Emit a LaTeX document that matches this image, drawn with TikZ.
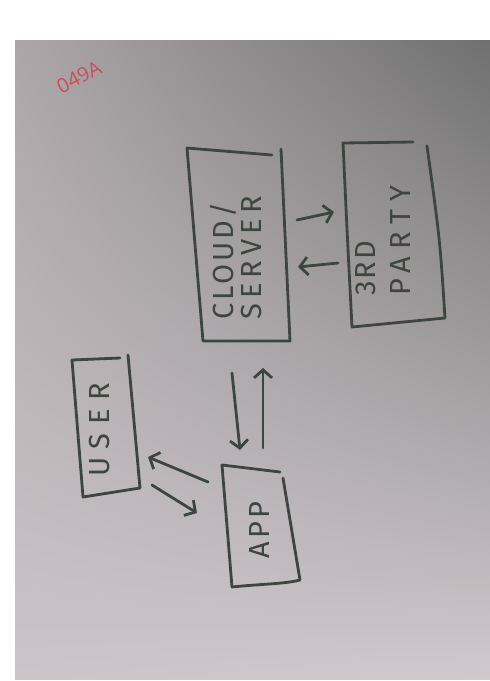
\documentclass[tikz,border=0pt]{standalone}
\usepackage{fontspec}
\setmainfont{Fira Sans}
\newfontfamily\notefont{Open Sans}
\usetikzlibrary{arrows.meta,shadings}
\definecolor{ink}{HTML}{3C463F}
\definecolor{redpen}{HTML}{D24A5A}
\definecolor{paperUL}{HTML}{ACA6A8}
\definecolor{paperUR}{HTML}{707070}
\definecolor{paperLL}{HTML}{CBC5C9}
\definecolor{paperLR}{HTML}{D0C9CD}
% widely tracked hand lettering
\newcommand\tracked[2]{{\addfontfeature{LetterSpace=#1}#2}}
\tikzset{
  pen/.style={line width=2.8pt, draw=ink, line cap=round, line join=round},
  flow/.style={pen, -{Straight Barb[length=8pt,width=18pt]}},
  label/.style={text=ink, rotate=90, align=left, inner sep=0pt,
    font=\fontsize{29}{33}\selectfont},
}
\begin{document}
\begin{tikzpicture}[x=1pt,y=-1pt]
  \useasboundingbox (0,0) rectangle (490,681);
  \fill[white] (0,0) rectangle (490,681);
  % sheet of paper
  \shade[upper left=paperUL, upper right=paperUR,
         lower left=paperLL, lower right=paperLR] (15,40) rectangle (490,679);

  % red reference number
  \node[text=redpen, rotate=27, inner sep=0pt,
        font=\notefont\fontsize{20}{20}\selectfont] (ref) at (79,77) {049A};

  % CLOUD / SERVER box
  \coordinate (c1) at (187,148);
  \coordinate (c2) at (272,155);
  \coordinate (c3) at (281,149);
  \coordinate (c4) at (290,341);
  \coordinate (c5) at (203,341);
  \draw[pen] (c2) -- (c1) -- (c5) -- (c4) -- (c3);
  \node[label, anchor=north west] (cloud) at (210,320)
    {\tracked{10}{CLOUD/}\\[-5pt]\tracked{18}{SERVER}};

  % 3RD PARTY box
  \coordinate (p1) at (413,142);
  \coordinate (p2) at (343,143);
  \coordinate (p3) at (352,327);
  \coordinate (p4) at (445,318);
  \coordinate (p5) at (427,146);
  \draw[pen] (p1) -- (p2) .. controls (347,230) .. (p3) -- (p4)
    .. controls (440,240) .. (p5);
  \node[label, anchor=north west] (third) at (355,296)
    {\tracked{8}{3RD}\\[2pt]\tracked{26}{PARTY}};

  % USER box
  \coordinate (u1) at (120,358);
  \coordinate (u2) at (72,360);
  \coordinate (u3) at (83,497);
  \coordinate (u4) at (140,488);
  \coordinate (u5) at (128,355);
  \draw[pen] (u1) -- (u2) -- (u3) -- (u4) -- (u5);
  \node[label] (user) at (100,430) {\tracked{30}{USER}};

  % APP box
  \coordinate (a1) at (280,472);
  \coordinate (a2) at (222,465);
  \coordinate (a3) at (232,587);
  \coordinate (a4) at (300,580);
  \coordinate (a5) at (283,478);
  \draw[pen] (a1) -- (a2) -- (a3) .. controls (260,584) and (285,584) .. (a4) -- (a5);
  \node[label] (app) at (260,530) {\tracked{10}{APP}};

  % arrow end points
  \coordinate (cs1) at (297,220);
  \coordinate (tp1) at (334,212);
  \coordinate (tp2) at (338,263);
  \coordinate (cs2) at (298,267);
  \coordinate (cs3) at (232,373);
  \coordinate (ap1) at (240,450);
  \coordinate (ap2) at (263,448);
  \coordinate (cs4) at (263,368);
  \coordinate (ap3) at (208,482);
  \coordinate (us1) at (148,457);
  \coordinate (us2) at (152,485);
  \coordinate (ap4) at (197,513);

  % connectors
  \draw[flow] (cs1) -- (tp1);
  \draw[flow] (tp2) -- (cs2);
  \draw[flow] (cs3) -- (ap1);
  \draw[flow] (ap2) -- (cs4);
  \draw[flow] (ap3) -- (us1);
  \draw[flow] (us2) -- (ap4);
\end{tikzpicture}
\end{document}
